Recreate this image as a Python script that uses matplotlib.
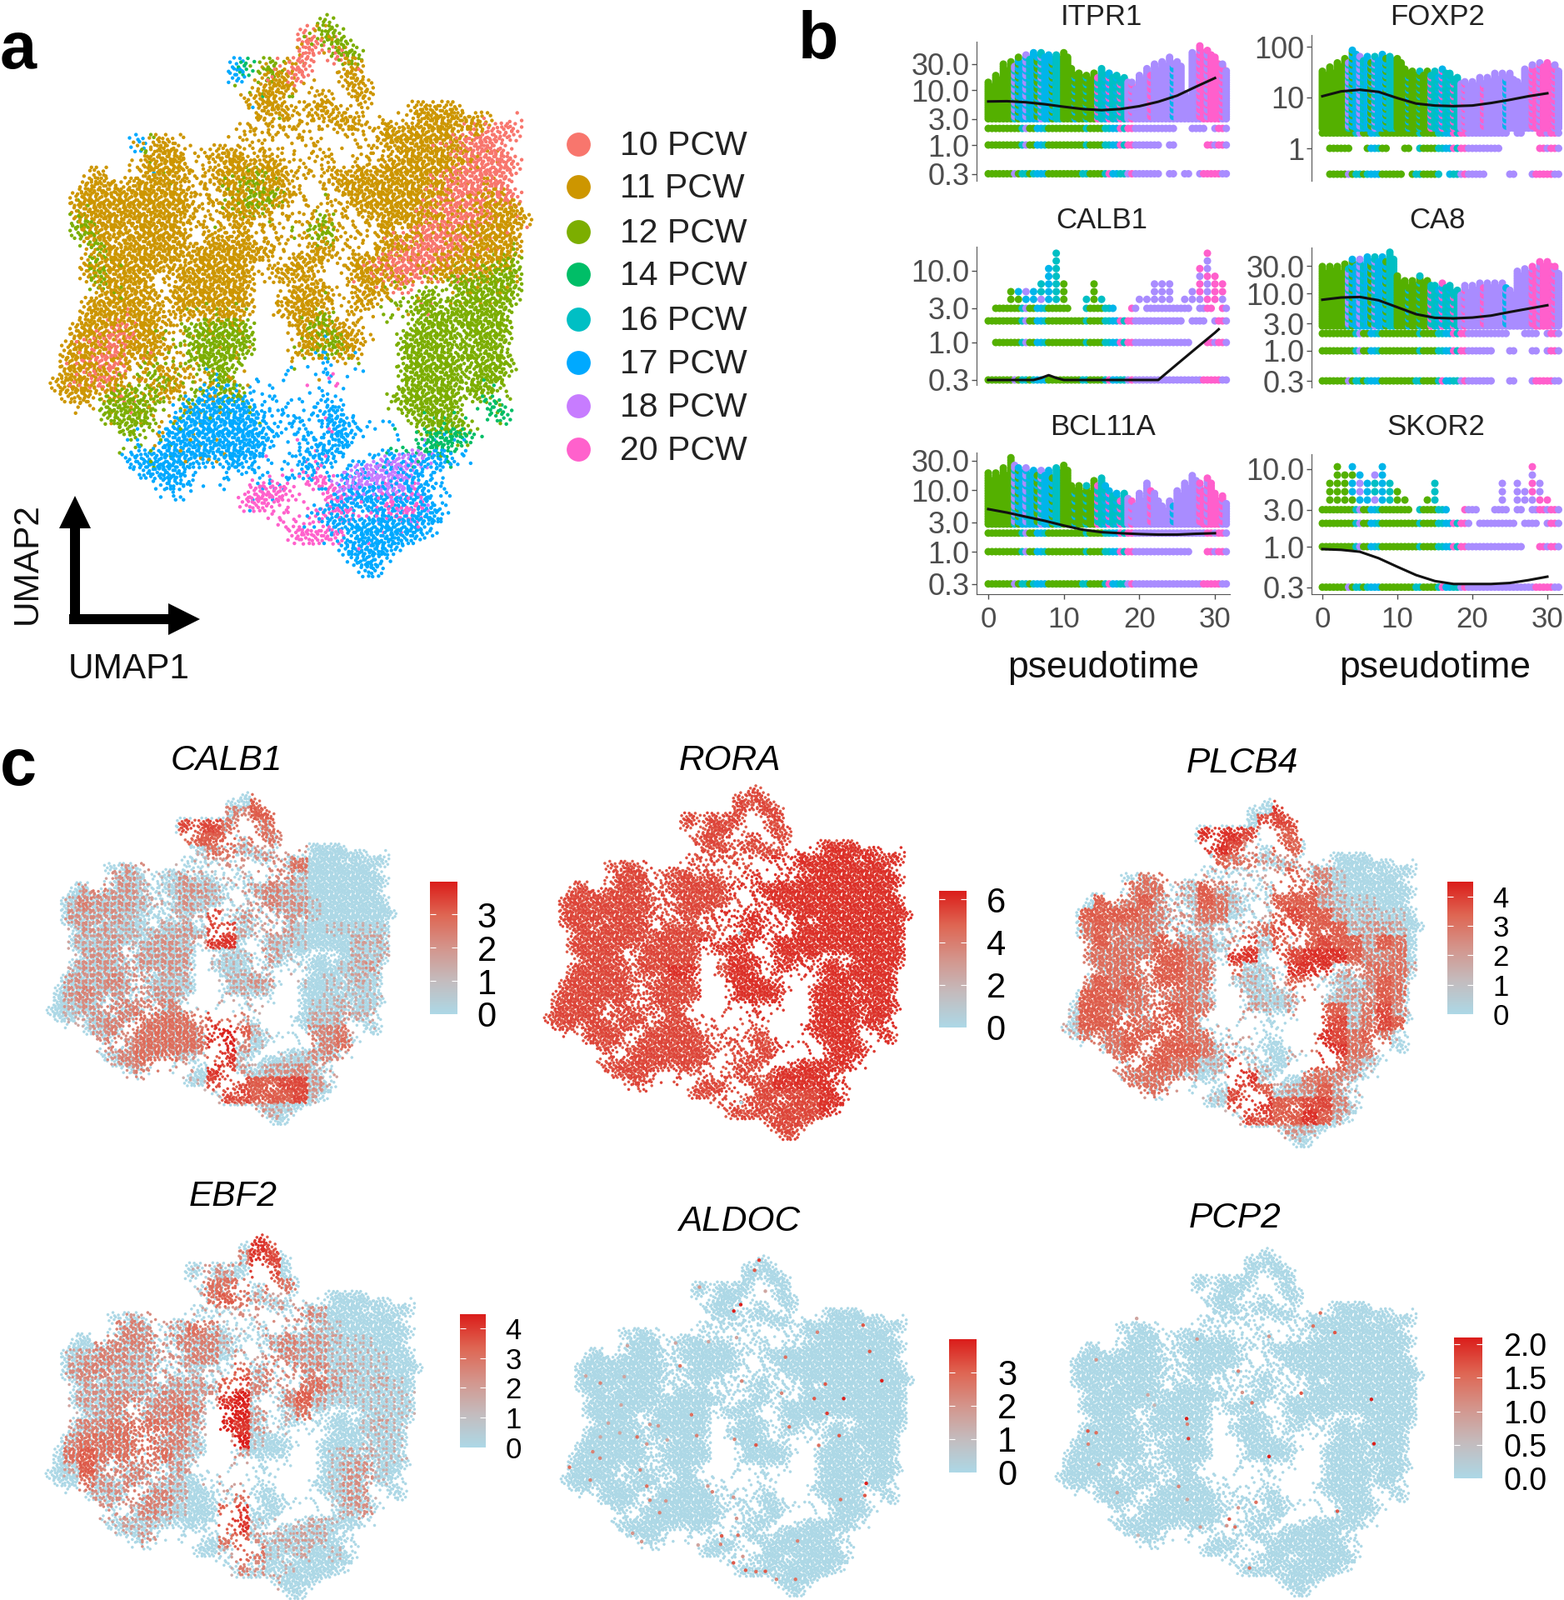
import numpy as np
import matplotlib
matplotlib.use("Agg")
import matplotlib.pyplot as plt
from matplotlib.colors import LinearSegmentedColormap
from matplotlib.patches import FancyArrow

W, H = 1877, 1920
SANS = ["Liberation Sans", "DejaVu Sans"]

UMAP_BINS = [
    "                           G",
    "                         RoGG",
    "                         RRoGG",
    "                        oR  RGG",
    "                  BE GGoRR   oO",
    "                  B  GOOR    OO",
    "                    gOOOo o   OO",
    "                   oOOO   oO  oO",
    "                    oOOOooOOoo      OOOOO",
    "                    ooooooooOOOo oo oOOOOOOO  r",
    "                  oooooooo   oo oOOOOOOOO OrRRR",
    "        BgOOo      ooo  ooo   oo OOOOOOOORRRR",
    "         gOOOo oOOOo ooo  ooo  oo oOOOOOOORRRR",
    "        oOOOOooo OOOOOOo ooo  oooOOOOOOOOORRRRR",
    "   oOo  oOOOOoooOOOOGOOOoo oOOOOOOOOOOOORRRRRR",
    "   OOOoOOOOOOooooOOGGOOoo  ooOOOOOOOOOOORRRRRR",
    "  OOOOOOOOOOOOooooOOGGGOoo oooOOOOOOOOOORRROORR",
    "  OOOOOOOOOOOOoooOOGGOoo oo oooOOOOOOOORRRROOOO",
    "  GOOOOOOOOOOoooooOOooooo oGoo ooOOOOOOORRRROOOO",
    "  GGOOOoOOOOOoooooooooo ooGG oo oOo ORRRROOOOOO",
    "   GOOoOOOOOOoooOOOOoooo ooGooo oOOOORRRRROOOOO",
    "    GOOOOOOOOOOOOOOOOOo  oOOo oooOOORRRRROOOOOO",
    "   OGOOOOOOOooOOOOOOo  oOOOo oOOORRRRRROOOOOOOG",
    "   OGOOOOOooOOOOOOOO oOOOo   oOOOORRRROOOOOOGGG",
    "    GOOOOoo oOOOOOOO    oOOo  oOOoOR    GGGGGGG",
    "    oOOOOOooOOOOOOOO   oOOOOo oOOo   GG gGGGGGG",
    "   OOOOOOOooOOOOOOOO  oOOOOo oOo gggGGGgGGGGGG",
    "   OOOOOOOOoooooOOO    oOOOGo  o  g  GGGGGGGGG",
    "  OOOOOROOOoogGGGGGG    oOGGOOo     GGGGgGGGGG",
    "  OOORRROOOoogGGGGGG    oOOGGOOo   GGGGGGgGGGG",
    " OOOORROOOOoogGGGGGG    oOOGGOO    GGGGGgGGGGg",
    " OOORRRooOooogGGGGg     o  b o     gGGGGGGgGGGg",
    " OOOORRooGoOooogGGo    b  bb  b    GGGGGGgGGGG",
    "OOOORROoooGGOoogGGo b      bm      gGGGGGgGGGg",
    " OOO OOGGoGOo gBBGGo b   b  b     gGGGGGGgGGg",
    "  oo GGGGGg oGBBBBBB bbb  bbb     gGGGGGG  eEg",
    "     GGGGGg oBBBBBBBB bbb bBBb      GGGGG   eE",
    "      gGGg oBBBBBBBBBb bbb bBBb b b  GGGGG",
    "       gg oBBBBBBBBBBBb bbbmBBb      eEEEEe",
    "       gb bBBBBBBBBBBb  bbBbBb    e eEEEe",
    "       bBBBBBBBBoBBBbb  bbBBb   bBBPPPBBbb",
    "        bBBBBb   bbbb  bbBm  bBPPPPPBbbb",
    "          bBBbb  b  mmmb mMMbBPPPPPPBbb",
    "           bbb      MMMM   mMPPBBBPPBBbb",
    "                   MMMm m  mMBBBBMBBMBb",
    "                      mm  MBBM  BBMMMBBb",
    "                       mmm  BBBBBBBBBBb",
    "                        MMMMM BBBBBBBb",
    "                             BBBBBB",
    "                              BBBb",
    "                               BB",
]
PCW_LABELS = ["10 PCW", "11 PCW", "12 PCW", "14 PCW", "16 PCW", "17 PCW", "18 PCW", "20 PCW"]
PCW_CODES = ["R", "O", "G", "E", "T", "B", "P", "M"]
PCW_COLORS = ["#F8766D", "#CD9600", "#7CAE00", "#00BE67", "#00BFC4", "#00A9FF", "#C77CFF", "#FF61CC"]

# ---- panel b: top of the point cloud for each unit of pseudotime (0..31)
ITPR1_TOP = [15, 20, 30, 35, 40, 45, 50, 50, 45, 45, 50, 25, 22, 20, 22, 25, 22, 20, 18, 14, 20, 25, 30, 35, 40, 35, 9, 50, 65, 55, 40, 30]
FOXP2_TOP = [34, 40, 50, 60, 90, 70, 65, 70, 75, 70, 60, 38, 36, 35, 35, 33, 38, 30, 25, 22, 22, 25, 26, 30, 32, 30, 22, 38, 45, 50, 50, 45]
CALB1_TOP = [0, 0, 4, 6, 6, 6, 6, 8, 12, 18, 7, 0, 4, 5, 7, 5, 0, 0, 0, 0, 4.2, 5, 7, 7, 7.5, 0, 5, 6, 13, 18, 9, 7]
CA8_TOP = [30, 32, 30, 35, 40, 40, 45, 45, 45, 53, 20, 17, 18, 20, 18, 15, 16, 14, 12, 14, 15, 16, 16, 16, 16, 12, 25, 28, 32, 38, 38, 30]
BCL11A_TOP = [19, 20, 23, 34, 25, 23, 22, 22, 21, 24, 26, 12.7, 12, 12, 15, 16, 10, 9, 9.3, 7, 9, 13, 9, 6, 7, 10, 14, 18, 13, 17, 9, 8]
SKOR2_TOP = [4, 7, 12, 9, 12, 10, 8, 9, 12, 8, 6, 5, 0, 0, 5, 8, 4, 0, 0, 0, 0, 4, 0, 0, 7, 0, 7, 6, 12, 7, 5, 0]

# discrete rows of points: value, then which units of pseudotime hold points
ITPR1_ROWS = [(0.3, "xxxxxxxxxxxxxxxxxxxxxxx x x xxxx"), (1, "xxxxxxxxxxxxxxxxxxxxxxx x    xxx"), (2, "xxxxxxxxxxxxxxxxxxxxxxxxx  xx xx")]
FOXP2_ROWS = [(0.31, " xxxxxxxxxx xxxx xxxxx   x  xxxx"), (1, " xxx  xxx  x xxxxxxxxxxx     xxx"), (2, "xxxxxxxxxxxxxxxxxxxxxxxxx x  xxx")]
CALB1_ROWS = [(0.3, "x" * 32), (1, " xxxxxxxxxxxxxxxxxxxxxxxxxx  xxx"), (2, "xxxxxxxxxxxxxxxxxxxxxxxxxx xx xx"), (3, " xxxxxxxxxx  xxxx  x xxxxxx xx x")]
CA8_ROWS = [(0.3, "xxxxxxxxxxxxxxxxxxxxxxx  x  xxxx"), (1, "xxxxxxxxxxxxxxxxxxxxxxx  x  x xx"), (2, "xxxxxxxxxxxxxxxxxxxxxxxxx  xx xx")]
BCL11A_ROWS = [(0.3, "x" * 32), (1, "xxxxxxxxxxxxxxxxxxxxxxxxxxx  xxx"), (2, "x" * 32)]
SKOR2_ROWS = [(0.3, "x" * 32), (1, "xxxxxxxxxxxxxxxxxxxxxxxxxxx  xxx"), (2, "xxxxxxxxxxxxxxxxxxxx xxxxx xx xx"), (3, "xxxxxxxxxxxx xxxx  xx  xx x xxxx")]

# colour of points along pseudotime, one letter per half unit
AGE_MAIN = "GGGGGGGTBBBTBBTBBBTTGGGGGGGGGTTBBTBTTPPPPPPPPPPPPPPPPPPPMMMMMMMP"
AGE_ALT = "GGGGGGGPGTPBTGPTBGPTGTGBGGTGGMGTMGTMBPMPPPPMPPPPPBPPPPPPPMPMPMPM"
ROW_AGE = "GGGGGGGGGTTGGBBBGGGGGGGGGTTGGGGTTBBTTMMPPPPPPPPPPPPPPPPPPPMMMMMP"

TREND_PT = [0, 2.5, 5, 7.5, 10, 12.5, 15, 17.5, 20, 22.5, 25, 27.5, 30]
ITPR1_TREND = [6.19, 6.26, 5.98, 5.51, 4.96, 4.51, 4.30, 4.51, 5.08, 6.12, 7.9, 11.5, 16.5]
FOXP2_TREND = [10.6, 13.2, 14.2, 12.9, 9.75, 7.6, 6.95, 6.77, 6.95, 7.8, 9.0, 10.6, 12.1]
CA8_TREND = [7.74, 8.46, 8.65, 7.57, 5.73, 4.34, 3.75, 3.67, 3.79, 4.1, 4.74, 5.42, 6.2]
BCL11A_TREND = [4.9, 4.3, 3.68, 3.16, 2.65, 2.27, 2.07, 1.99, 1.93, 1.89, 1.89, 1.95, 1.99]
SKOR2_TREND = [0.93, 0.91, 0.86, 0.71, 0.55, 0.43, 0.36, 0.33, 0.33, 0.33, 0.34, 0.37, 0.41]
CALB1_TREND_PT = [0, 6, 7, 8, 9, 10, 22.5, 25, 27.5, 30, 30.5]
CALB1_TREND = [0.3, 0.3, 0.32, 0.35, 0.32, 0.3, 0.3, 0.5, 0.83, 1.37, 1.53]

# ---- panel c: expression level (0-9) in coarse bins of the same UMAP
CALB1_LEVELS = [
    "000000000000006600000000", "000000000000446600000000", "000000000777555500000000", "000000000666645540000000",
    "000000000015533333000000", "000003301122332445000000", "000233111321223442000000", "003433211332133432000000",
    "024333221322113433100000", "033332112227233333100000", "023322122317722331011111", "022232233238822221000222",
    "023333333302113310000212", "023333333301112221001231", "033343322201223311011211", "034333333201222110011111",
    "023344444322222100112110", "012344555557541100223220", "001344555558962100445210", "000344555558941000445310",
    "000034555337820011343110", "000023443308731334222000", "000002320117776677321000", "000000000002776667200000",
    "000000000000033210000000", "000000000000005200000000",
]
RORA_LEVELS = [
    "777777777777777777777777", "777777777777777777777777", "777777777777777777777777", "777777777777777777777777",
    "777777777777777788888888", "777777777777778888888888", "777777777777788888888888", "777777777777888888888888",
    "777777777777788888888888", "777777777778888888888888", "777777777777888888888888", "777777777788888888888888",
    "777777777777888888888888", "777777778877888888888888", "777777777788888888888888", "777777777788888888888888",
    "777777777777888888888888", "777777777777777888888888", "777777777777777888888888", "777777777777777888888888",
    "777777777777777888888888", "777777777777777888888888", "777777777777777777888888", "777777777777777777888888",
    "777777777777777777777777", "777777777777777777777777",
]
PLCB4_LEVELS = [
    "000000000000008800000000", "000000000000077700000000", "000000000888726600000000", "000000000887416600000000",
    "000000000065533432000000", "000005500331224644100000", "000055533642225664100000", "006556432652136663211000",
    "066665433551126766312110", "056555443322457766623320", "056544654314726567663650", "055555665318817788864450",
    "045555665536113888345552", "056565665511213652224651", "066655555313211352234651", "166555665522321366625741",
    "266665665222200257735760", "255566665522200258756510", "044565666533100258855200", "002556655227310267642100",
    "000455553028820055431000", "000355520017762346321000", "000002100117886677421000", "000000000002776686310000",
    "000000000000023320000000", "000000000000004100000000",
]
EBF2_LEVELS = [
    "000000000000087000000000", "000000000000487000000000", "000000000133087000000000", "000000000155525500000000",
    "000000000256532210000000", "000003300222332343000000", "000044333541123332100000", "000444434442113433211000",
    "023443333441324433111100", "034433333221634444221100", "023332333336744355311210", "023344344338932463111111",
    "012344445429932251001111", "034455554329831100001211", "045555544214910000001111", "056555553212300000122111",
    "026444433201200000133100", "005334332022200000133100", "002334442002500000133100", "000333431006800011123100",
    "000122210007811122100000", "000011310005632222000000", "000000000002651120100000", "000000000001430100000000",
    "000000000000012000000000", "000000000000002000000000",
]
ZERO_LEVELS = ["0" * 24] * 26

# single expressing cells; x,y run 0-1 across the cloud
ALDOC_X = [.565, .552, .512, .492, .919, .809, .724, .761, .756, .865, .884, .733, .641, .874, .870, .796, .737, .800,
           .018, .107, .337, .370, .213, .556, .494, .385, .078, .241, .222, .085, .106, .457, .504, .454, .491, .526,
           .556, .583, .615, .670, .676, .226, .200, .278, .250, .296, .417, .430, .491, .500, .518, .389, .652, .515,
           .630, .500, .324, .419, .185, .065, .176, .167, .130, .274, .250, .241, .300, .163, .107, .393, .583]
ALDOC_Y = [.008, .038, .140, .159, .366, .419, .419, .463, .376, .201, .279, .222, .296, .671, .707, .529, .558, .719,
           .623, .373, .322, .467, .533, .557, .540, .529, .661, .679, .631, .577, .596, .827, .825, .852, .907, .929,
           .933, .932, .956, .956, .842, .844, .819, .758, .721, .723, .679, .696, .712, .775, .888, .854, .503, .367,
           .403, .238, .254, .250, .262, .352, .354, .438, .492, .500, .496, .554, .542, .521, .533, .088, .100]
ALDOC_V = [.9, .8, 1, 1, 1, 1, .8, .9, .8, .8, .8, .6, .7, 1, .8, .8, .7, .7, .7, .6, .7, .7, .7, .8, .6, .6, .6, .7, .6, .6, .6, .8,
           .7, .6, .8, .8, .7, .8, .6, .7, .6, .5, .5, .6, .6, .5, .5, .6, .5, .5, .5, .4, .7, .6, .6, .4, .4, .4, .4, .4, .4, .4, .4, .5,
           .5, .5, .4, .4, .4, .5, .4]
PCP2_X = [.725, .705, .765, .866, .355, .357, .360, .873, .583, .672, .536, .509, .082, .105, .083, .105, .384, .583, .217,
          .498, .112, .163, .333, .547, .772, .473, .489, .466, .393, .529, .498, .357, .221, .248, .266]
PCP2_Y = [.183, .221, .240, .434, .490, .506, .548, .563, .600, .416, .444, .414, .526, .531, .564, .319, .259, .251, .199,
          .352, .623, .705, .687, .733, .759, .782, .805, .801, .805, .924, .749, .725, .829, .421, .451]
PCP2_V = [.7, .7, .8, 1, 1, .6, .9, 1, 1, .8, .7, .5, .8, .7, .6, .5, .5, .5, .4, .6, .5, .5, .6, .7, .8, .8, .7, .5, .5, .7, .5, .4, .3, .4, .3]
RORA_X = [.534, .538]
RORA_Y = [.416, .900]
RORA_V = [0, 0]

# where the dots of one bin sit inside it; they reach a little into the next bins
DOT_X = [-.30, .35, 1.05, .10, .70, 1.30, -.15, .50, 1.15, .25, .85, .55]
DOT_Y = [.05, -.25, .10, .45, .40, .55, .90, .75, 1.00, 1.30, 1.25, .20]
DOT_RANK = [0, 6, 3, 9, 1, 7, 4, 10, 2, 8, 5, 11]
SPARSE_PICKS = [0, 5, 7, 10]
# these dots borrow the PCW of a nearby bin, the stages are mixed in the reference
BORROW = {3: (0, 2), 7: (2, 0), 10: (-2, -2), 1: (-1, 3)}

GRID_COLS, GRID_ROWS = 47.8, 51.0

cmap_gene = LinearSegmentedColormap.from_list(
    "gene", ["#ADD8E6", "#C4BCBE", "#D4958C", "#DF6653", "#DB1E1B"])


def px_axes(fig, x0, y0, x1, y1):
    return fig.add_axes([x0 / W, 1 - y1 / H, (x1 - x0) / W, (y1 - y0) / H])


def bin_at(r, c):
    if 0 <= r < len(UMAP_BINS) and 0 <= c < len(UMAP_BINS[r]):
        return UMAP_BINS[r][c]
    return " "


def bin_dots():
    """Dots of every occupied bin: x, y, PCW letter, rank of the dot within the bin."""
    xs, ys, codes, ranks = [], [], [], []
    for r, row in enumerate(UMAP_BINS):
        for c, ch in enumerate(row):
            if ch == " ":
                continue
            spin = (r * r * 3 + c * c * 5 + r * c) % 12
            picks = range(12) if ch.isupper() else SPARSE_PICKS
            for k in picks:
                j = (k + spin) % 12
                dx = 1 - DOT_X[j] if (r * 2 + c * c) % 3 == 0 else DOT_X[j]
                dy = 1 - DOT_Y[j] if (r * r + c) % 3 == 1 else DOT_Y[j]
                xs.append(c + dx)
                ys.append(r + dy)
                code = ch.upper()
                if j in BORROW:
                    other = bin_at(r + BORROW[j][0], c + BORROW[j][1])
                    if other != " ":
                        code = other.upper()
                codes.append(code)
                ranks.append(DOT_RANK[j])
    return np.array(xs), np.array(ys), codes, np.array(ranks)


def cloud_axes(fig, box):
    ax = px_axes(fig, *box)
    ax.set_xlim(0, GRID_COLS)
    ax.set_ylim(GRID_ROWS, 0)
    ax.axis("off")
    return ax


def draw_gene(fig, box, levels, extra=None):
    ax = cloud_axes(fig, box)
    xs, ys, _, ranks = bin_dots()
    vals = np.zeros(len(xs))
    for i in range(len(xs)):
        gr = int(np.clip(ys[i] // 2, 0, 25))
        gc = int(np.clip(xs[i] // 2, 0, 23))
        lev = int(levels[gr][gc])
        if ranks[i] / 2 < lev:
            vals[i] = 0.3 + 0.075 * lev + 0.04 * (ranks[i] % 3 - 1)
    order = np.argsort(vals)
    ax.scatter(xs[order], ys[order], c=vals[order], cmap=cmap_gene, vmin=0, vmax=1, s=6.5, linewidths=0, clip_on=False)
    if extra is not None:
        ex, ey, ev = extra
        ax.scatter(np.array(ex) * GRID_COLS, np.array(ey) * GRID_ROWS, c=ev, cmap=cmap_gene,
                   vmin=0, vmax=1, s=10, linewidths=0)


def draw_colorbar(fig, box, top, ticks, labels, size, pad):
    ax = px_axes(fig, *box)
    grad = np.linspace(0, 1, 200).reshape(-1, 1)
    ax.imshow(grad, origin="lower", aspect="auto", cmap=cmap_gene, extent=[0, 1, 0, top])
    ax.set_xticks([])
    ax.set_yticks(ticks)
    ax.set_yticklabels(labels, family=SANS, fontsize=size, color="black")
    ax.tick_params(axis="y", direction="in", color="white", length=5, width=0.8,
                   left=True, right=True, labelleft=False, labelright=True, pad=pad)
    for s in ax.spines.values():
        s.set_visible(False)


def draw_pseudotime(fig, box, pt0_px, unit_px, cal, ticks, ticklabels, tops, rows, trend, trend_pt,
                    base, sparse=False, show_x=False):
    x0, y0, x1, y1 = box
    ax = px_axes(fig, x0, y0, x1, y1)
    ax.set_xlim((x0 - pt0_px) / unit_px, (x1 - pt0_px) / unit_px)
    # two known ticks fix the log scale
    (v1, p1), (v2, p2) = cal
    per_px = (np.log10(v1) - np.log10(v2)) / (p1 - p2)
    ax.set_yscale("log")
    ax.set_ylim(10 ** (np.log10(v1) + (y1 - p1) * per_px), 10 ** (np.log10(v1) + (y0 - p1) * per_px))

    px, py, pc = [], [], []
    # discrete rows
    for val, cover in rows:
        for h in range(64):
            if cover[h // 2] == " ":
                continue
            px.append(h / 2)
            py.append(val)
            pc.append(ROW_AGE[h] if (h + int(val * 10)) % 5 else AGE_ALT[h])
    # continuous part
    step = 1.28 if sparse else 1.1
    for h in range(64):
        top = tops[h // 2]
        if h % 2:
            top = top * 0.8
        if sparse and h % 2:
            continue
        v = base
        j = 0
        while v < top:
            px.append(h / 2)
            py.append(v)
            pc.append(AGE_ALT[h] if (j * j + h) % 3 == 2 else AGE_MAIN[h])
            v *= step
            j += 1
    code2col = dict(zip(PCW_CODES, ["#F8766D", "#CD9600", "#54B000", "#00B88F", "#00BFC4", "#00B5EA", "#A98CFF", "#FF5FCC"]))
    ax.scatter(px, py, c=[code2col[k] for k in pc], s=42, linewidths=0, clip_on=False, zorder=2)
    ax.plot(trend_pt, trend, color="#111111", lw=2.2, zorder=3)

    ax.set_yticks(ticks)
    ax.set_yticklabels(ticklabels, family=SANS, fontsize=26, color="#4D4D4D")
    ax.minorticks_off()
    ax.tick_params(axis="y", length=4, width=1, color="#4D4D4D", pad=2)
    for s in ["top", "right"]:
        ax.spines[s].set_visible(False)
    ax.spines["left"].set_color("#555555")
    if show_x:
        ax.spines["bottom"].set_color("#555555")
        ax.set_xticks([0, 10, 20, 30])
        ax.set_xticklabels(["0", "10", "20", "30"], family=SANS, fontsize=25, color="#4D4D4D")
        ax.tick_params(axis="x", length=4, width=1, color="#4D4D4D", pad=6)
    else:
        ax.spines["bottom"].set_visible(False)
        ax.set_xticks([])
    ax.patch.set_alpha(0)


fig = plt.figure(figsize=(W / 100, H / 100), dpi=100, facecolor="white")

# overlay in pixel units for the free text and arrows
over = fig.add_axes([0, 0, 1, 1], zorder=10)
over.set_xlim(0, W)
over.set_ylim(H, 0)
over.axis("off")

# panel a
ax_a = cloud_axes(fig, (64, 21, 632, 688))
xs, ys, codes, _ = bin_dots()
code_color = dict(zip(PCW_CODES, PCW_COLORS))
ax_a.scatter(xs, ys, c=[code_color[k] for k in codes], s=10, linewidths=0, clip_on=False)

legend_y = [173, 224, 278, 329, 383, 435, 487, 539]
for lab, col, ly in zip(PCW_LABELS, PCW_COLORS, legend_y):
    over.scatter([694], [ly], s=430, color=col, linewidths=0)
    over.text(744, ly + 2, lab, fontsize=29.5, family=SANS, va="center", ha="left", color="#222222")

over.add_patch(FancyArrow(90, 749, 0, -154, width=12, head_width=38, head_length=39,
                          length_includes_head=True, color="black", lw=0))
over.add_patch(FancyArrow(83, 743, 157, 0, width=12, head_width=38, head_length=38,
                          length_includes_head=True, color="black", lw=0))
over.text(33, 676, "UMAP2", rotation=90, fontsize=30.5, family=SANS, ha="center", va="center", color="#111111")
over.text(155, 803, "UMAP1", fontsize=30.5, family=SANS, ha="center", va="center", color="#111111")

for lab, lx, ly in [("a", 0, 53), ("b", 958, 41), ("c", 0, 913)]:
    over.text(lx, ly, lab, fontsize=57, fontweight="bold", family=SANS, ha="left", va="center_baseline", color="black")

# panel b
LEFT_BOX, RIGHT_BOX = (1172, 1476), (1574, 1875)
draw_pseudotime(fig, (LEFT_BOX[0], 50, LEFT_BOX[1], 217), 1186, 9.07, ((10, 108), (1, 174)),
                [30, 10, 3, 1, 0.3], ["30.0", "10.0", "3.0", "1.0", "0.3"], ITPR1_TOP, ITPR1_ROWS,
                ITPR1_TREND, TREND_PT, 3)
draw_pseudotime(fig, (RIGHT_BOX[0], 42, RIGHT_BOX[1], 217), 1587, 9.0, ((10, 117), (1, 178)),
                [100, 10, 1], ["100", "10", "1"], FOXP2_TOP, FOXP2_ROWS, FOXP2_TREND, TREND_PT, 2.5)
draw_pseudotime(fig, (LEFT_BOX[0], 296, LEFT_BOX[1], 462), 1186, 9.07, ((10, 325), (1, 411)),
                [10, 3, 1, 0.3], ["10.0", "3.0", "1.0", "0.3"], CALB1_TOP, CALB1_ROWS,
                CALB1_TREND, CALB1_TREND_PT, 4, sparse=True)
draw_pseudotime(fig, (RIGHT_BOX[0], 297, RIGHT_BOX[1], 465), 1587, 9.0, ((10, 352), (1, 421)),
                [30, 10, 3, 1, 0.3], ["30.0", "10.0", "3.0", "1.0", "0.3"], CA8_TOP, CA8_ROWS,
                CA8_TREND, TREND_PT, 2.7)
draw_pseudotime(fig, (LEFT_BOX[0], 543, LEFT_BOX[1], 713), 1186, 9.07, ((10, 588), (1, 662)),
                [30, 10, 3, 1, 0.3], ["30.0", "10.0", "3.0", "1.0", "0.3"], BCL11A_TOP, BCL11A_ROWS,
                BCL11A_TREND, TREND_PT, 2.8, show_x=True)
draw_pseudotime(fig, (RIGHT_BOX[0], 545, RIGHT_BOX[1], 713), 1587, 9.0, ((10, 563), (1, 656)),
                [10, 3, 1, 0.3], ["10.0", "3.0", "1.0", "0.3"], SKOR2_TOP, SKOR2_ROWS,
                SKOR2_TREND, TREND_PT, 4, sparse=True, show_x=True)

for lab, lx, ly in [("ITPR1", 1322, 20), ("FOXP2", 1725, 20), ("CALB1", 1322, 265), ("CA8", 1725, 265),
                    ("BCL11A", 1324, 512), ("SKOR2", 1723, 513)]:
    over.text(lx, ly, lab, fontsize=25, family=SANS, ha="center", va="center", color="#222222")
for lx in [1324, 1722]:
    over.text(lx, 802, "pseudotime", fontsize=32, family=SANS, ha="center", va="center", color="#111111")

# panel c
draw_gene(fig, (59, 953, 471, 1347), CALB1_LEVELS)
draw_gene(fig, (656, 945, 1090, 1365), RORA_LEVELS, (RORA_X, RORA_Y, RORA_V))
draw_gene(fig, (1277, 961, 1704, 1374), PLCB4_LEVELS)
draw_gene(fig, (58, 1484, 502, 1916), EBF2_LEVELS)
draw_gene(fig, (676, 1509, 1092, 1913), ZERO_LEVELS, (ALDOC_X, ALDOC_Y, ALDOC_V))
draw_gene(fig, (1270, 1500, 1704, 1913), ZERO_LEVELS, (PCP2_X, PCP2_Y, PCP2_V))

for lab, lx, ly in [("CALB1", 272, 913), ("RORA", 876, 913), ("PLCB4", 1491, 916), ("EBF2", 280, 1436),
                    ("ALDOC", 887, 1466), ("PCP2", 1482, 1462)]:
    over.text(lx, ly, lab, fontsize=30.5, style="italic", family=SANS, ha="center", va="center", color="black")

draw_colorbar(fig, (516, 1058, 549, 1217), 3.98, [0, 1, 2, 3], ["0", "1", "2", "3"], 30, 17)
draw_colorbar(fig, (1127, 1069, 1160, 1233), 6.4, [0, 2, 4, 6], ["0", "2", "4", "6"], 30, 17)
draw_colorbar(fig, (1737, 1058, 1768, 1217), 4.5, [0, 1, 2, 3, 4], ["0", "1", "2", "3", "4"], 25, 17)
draw_colorbar(fig, (552, 1577, 583, 1737), 4.47, [0, 1, 2, 3, 4], ["0", "1", "2", "3", "4"], 25, 17)
draw_colorbar(fig, (1139, 1607, 1172, 1767), 4.0, [0, 1, 2, 3], ["0", "1", "2", "3"], 30, 18)
draw_colorbar(fig, (1745, 1605, 1779, 1774), 2.1, [0, 0.5, 1, 1.5, 2], ["0.0", "0.5", "1.0", "1.5", "2.0"], 27, 18)

fig.savefig("out.png", dpi=100, facecolor="white")
plt.close(fig)
